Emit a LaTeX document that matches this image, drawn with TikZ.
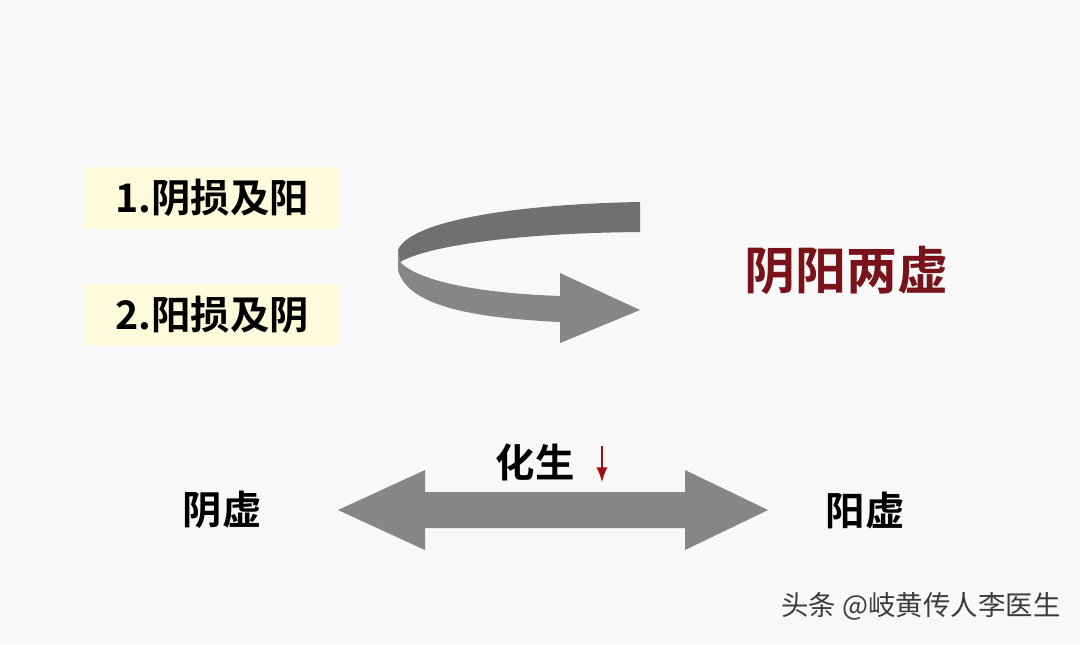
\documentclass[tikz,border=0pt]{standalone}
\usepackage{fontspec}
\setmainfont{Noto Sans CJK SC}
\newfontfamily\cjkbold{Noto Sans CJK SC Bold}
\usetikzlibrary{positioning}
\definecolor{bgpaper}{RGB}{248,248,248}
\definecolor{boxyellow}{RGB}{255,250,220}
\definecolor{ribbondark}{RGB}{112,112,112}
\definecolor{ribbonlight}{RGB}{134,134,134}
\definecolor{deepred}{RGB}{120,20,25}
\definecolor{markgray}{RGB}{60,60,60}

\begin{document}
\begin{tikzpicture}[x=0.01cm, y=-0.01cm]
    % Define styles
    \tikzset{
        label/.style={font=\cjkbold\fontsize{11.2}{11.2}\selectfont, text=black, inner sep=0pt},
        step box/.style={label, fill=boxyellow, minimum width=2.55cm, minimum height=0.62cm}
    }
    \useasboundingbox[fill=bgpaper] (0,0) rectangle (1080,644);

    % Left boxes
    \node[step box] (lossyin) at (212,198) {1.阴损及阳};
    \node[step box] (lossyang) at (212,315) {2.阳损及阴};

    % Curved arrow
    \fill[ribbondark] (640,202) .. controls (520,204) and (410,220) .. (398,250)
        -- (400,262) .. controls (430,245) and (520,233) .. (640,232) -- cycle;
    \fill[ribbonlight] (398,250) -- (398,270) .. controls (408,308) and (480,318) .. (560,322)
        -- (560,343) -- (640,310) -- (560,273) -- (560,296)
        .. controls (480,293) and (420,282) .. (400,262) -- cycle;

    \node[label, text=deepred, font=\cjkbold\fontsize{14.5}{14.5}\selectfont] (both) at (846,270) {阴阳两虚};

    % Bottom double arrow
    \node[label] (yinxu) at (222,510) {阴虚};
    \node[label] (yangxu) at (865,510) {阳虚};
    \fill[ribbonlight] (338,510) -- (425,470) -- (425,492) -- (685,492) -- (685,470)
        -- (768,510) -- (685,550) -- (685,528) -- (425,528) -- (425,550) -- cycle;
    \node[label] (huasheng) at (535,462) {化生};
    \coordinate (downtop) at (602,446);
    \coordinate (downend) at (602,482);
    \draw[deepred!70!red, line width=0.45pt, -latex] (downtop) -- (downend);

    % Watermark
    \node[font=\fontsize{7.8}{7.8}\selectfont, text=markgray, inner sep=0pt] (mark) at (921,606) {头条 @岐黄传人李医生};
\end{tikzpicture}
\end{document}
